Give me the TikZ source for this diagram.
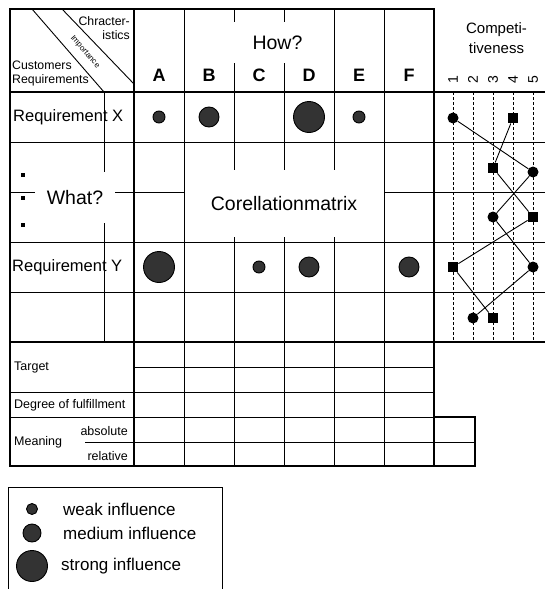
\documentclass[tikz,border=0pt]{standalone}
\usepackage{fontspec}
\setmainfont{Liberation Sans}
\definecolor{inflfill}{HTML}{333333}
\begin{document}
\begin{tikzpicture}[x=1pt,y=-1pt,
  thickline/.style={line width=2.7pt},
  thinline/.style={line width=0.9pt},
  dashline/.style={line width=0.8pt, dash pattern=on 3pt off 2pt},
  inflcirc/.style={circle, draw=black, fill=inflfill, line width=0.9pt, inner sep=0pt},
  weak/.style={inflcirc, minimum size=12pt},
  medium/.style={inflcirc, minimum size=20pt},
  strong/.style={inflcirc, minimum size=31pt},
  cmark/.style={circle, fill=black, minimum size=11pt, inner sep=0pt},
  smark/.style={rectangle, fill=black, minimum size=10.5pt, inner sep=0pt},
  dotmark/.style={rectangle, fill=black, minimum size=3.2pt, inner sep=0pt},
  cover/.style={fill=white, inner sep=0pt},
  bigtxt/.style={font=\fontsize{19.5}{23}\selectfont},
  reqtxt/.style={inner sep=0pt, font=\fontsize{16.5}{19}\selectfont},
  smalltxt/.style={inner sep=0pt, font=\fontsize{12.5}{15}\selectfont},
  headtxt/.style={inner sep=0pt, font=\fontsize{12.3}{14}\selectfont},
  colhead/.style={inner sep=0pt, font=\fontsize{18}{20}\selectfont\bfseries},
  numlbl/.style={inner sep=0pt, font=\fontsize{14}{16}\selectfont},
  legtxt/.style={inner sep=0pt, font=\fontsize{17}{20}\selectfont}
]
\useasboundingbox (0,0) rectangle (545,589);

% thin grid lines
\foreach \y in {142,192,242,292} \draw[thinline] (10,\y) -- (545,\y);
\draw[thinline] (134,367) -- (434,367);
\draw[thinline] (10,392) -- (434,392);
\draw[thinline] (10,417) -- (434,417);
\draw[thinline] (85,442) -- (475,442);
\foreach \x in {184,234,284,334,384} \draw[thinline] (\x,9) -- (\x,466);
\draw[thinline] (104,92) -- (104,342);
\foreach \x in {453,473,493,513,533} \draw[dashline] (\x,92) -- (\x,342);
\draw[thinline] (32,9) -- (104,92);
\draw[thinline] (62,9) -- (134,84);

% label boxes covering the grid
\node[cover, bigtxt, minimum width=91pt, minimum height=41pt] (how) at (277.5,42.5) {How?};
\node[cover, bigtxt, minimum width=80pt, minimum height=51pt] (what) at (75,197.5) {What?\hspace{6pt}};
\node[cover, bigtxt, minimum width=199pt, minimum height=67pt] (corr) at (284,203.5) {Corellationmatrix};

% thick frame lines
\draw[thickline] (10,9) rectangle (434,466);
\draw[thickline] (134,9) -- (134,466);
\draw[thickline] (10,92) -- (545,92);
\draw[thickline] (10,342) -- (545,342);
\draw[thickline] (434,417) -- (475,417) -- (475,466) -- (434,466);

% header texts
\node[headtxt, anchor=east, align=right] (charact) at (130,28) {Chracter-\\istics};
\node[headtxt, anchor=west, align=left] (custreq) at (12,73.5) {Customers\\Requirements};
\node[inner sep=0pt, rotate=-49, font=\fontsize{8}{10}\selectfont] (importance) at (85,52) {Importance};
\foreach \l [count=\i] in {A,B,C,D,E,F} \node[colhead] (col\l) at (109+50*\i,75) {\l};
\node[inner sep=0pt, align=center, font=\fontsize{15}{20}\selectfont] (compet) at (496.5,38) {Competi-\\tiveness};
\foreach \n in {1,...,5} \node[numlbl, rotate=90] (num\n) at (433+20*\n,80) {\n};

% row labels
\node[reqtxt, anchor=west] (reqX) at (13,117) {Requirement X};
\node[reqtxt, anchor=west] (reqY) at (12,267) {Requirement Y};
\node[dotmark] (dot1) at (23,175) {};
\node[dotmark] (dot2) at (23,198) {};
\node[dotmark] (dot3) at (23,225) {};

% matrix influences
\node[weak] (xA) at (159,117) {};
\node[medium] (xB) at (209,117) {};
\node[strong] (xD) at (309,117) {};
\node[weak] (xE) at (359,117) {};
\node[strong] (yA) at (159,267) {};
\node[weak] (yC) at (259,267) {};
\node[medium] (yD) at (309,267) {};
\node[medium] (yF) at (409,267) {};

% competitiveness profile
\node[cmark] (c1) at (453,118) {};
\node[cmark] (c2) at (533,172) {};
\node[cmark] (c3) at (493,217) {};
\node[cmark] (c4) at (533,267) {};
\node[cmark] (c5) at (473,318) {};
\node[smark] (s1) at (513,118) {};
\node[smark] (s2) at (493,168) {};
\node[smark] (s3) at (533,217) {};
\node[smark] (s4) at (453,267) {};
\node[smark] (s5) at (493,318) {};
\draw[thinline] (c1) -- (c2) -- (c3) -- (c4) -- (c5);
\draw[thinline] (s1) -- (s2) -- (s3) -- (s4) -- (s5);

% bottom section
\node[smalltxt, anchor=west] (target) at (14,367) {Target};
\node[smalltxt, anchor=west] (degree) at (14,405) {Degree of fulfillment};
\node[smalltxt, anchor=west] (meaning) at (14,442) {Meaning};
\node[smalltxt, anchor=east] (absolute) at (128,431) {absolute};
\node[smalltxt, anchor=east] (relative) at (128,456) {relative};

% legend
\draw[thinline] (8,589) -- (8,487) -- (222,487) -- (222,589);
\node[weak, minimum size=11pt] (lweak) at (32,509) {};
\node[medium, minimum size=18pt] (lmedium) at (32,533) {};
\node[strong] (lstrong) at (32,566) {};
\node[legtxt, anchor=west] (tweak) at (63,509) {weak influence};
\node[legtxt, anchor=west] (tmedium) at (63,533) {medium influence};
\node[legtxt, anchor=west] (tstrong) at (61,566) {strong influence};
\end{tikzpicture}
\end{document}
